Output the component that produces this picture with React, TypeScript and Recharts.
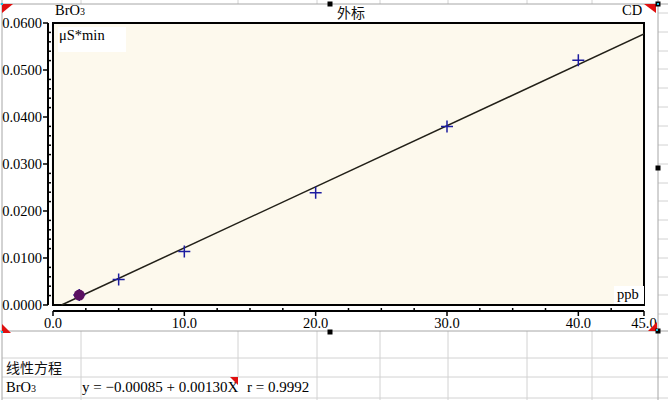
import React from "react";
import { ScatterChart, Scatter, XAxis, YAxis, ReferenceArea, ReferenceLine } from "recharts";

// calibration points (ppb vs µS*min)
const concentration = [2, 5, 10, 20, 30, 40];
const peakArea = [0.0021, 0.0054, 0.0114, 0.0239, 0.038, 0.0521];

// regression line ends, y = -0.00085 + 0.00130X
const fitX = [0.65, 45];
const fitY = [0, 0.05765];

const xMajor = [0, 10, 20, 30, 40, 45];
const xMinor = [2.5, 5, 7.5, 12.5, 15, 17.5, 22.5, 25, 27.5, 32.5, 35, 37.5, 42.5];
const yMajor = [0, 0.01, 0.02, 0.03, 0.04, 0.05, 0.06];
const yMinor = [
  0.002, 0.004, 0.006, 0.008, 0.012, 0.014, 0.016, 0.018, 0.022, 0.024, 0.026, 0.028,
  0.032, 0.034, 0.036, 0.038, 0.042, 0.044, 0.046, 0.048, 0.052, 0.054, 0.056, 0.058,
];

// axis lines sit a few px outside the plot box
const X_DOMAIN: [number, number] = [-0.38, 45];
const Y_DOMAIN: [number, number] = [-0.00128, 0.06];

const points = concentration.map((x, i) => ({ x, y: peakArea[i] }));
const fitLine = fitX.map((x, i) => ({ x, y: fitY[i] }));

const SERIF = '"Liberation Serif", "Times New Roman", serif';
const CJK = '"Noto Sans CJK SC", sans-serif';
const GRID = "#d2d2d2";
const FRAME = "#a6a6a6";

// spreadsheet cells around the chart object
const gridCols = [81, 238, 317, 380, 448, 527, 592];
const gridRows = [358, 377, 398];
const sideRows = [13, 32, 51, 69, 88, 107, 126, 145, 164, 183, 201, 220, 239, 258, 277, 295, 314];

function XTick({ x, y, payload }: any) {
  const v = payload.value;
  if (!xMajor.includes(v)) {
    return <line x1={x} x2={x} y1={y} y2={y - 3} stroke="#000" strokeWidth={1.5} />;
  }
  return (
    <g>
      <line x1={x} x2={x} y1={y} y2={y + 5} stroke="#000" strokeWidth={1.5} />
      <text x={x} y={y + 17} textAnchor="middle" fontSize={14.5} fontFamily={SERIF} fill="#000">
        {v.toFixed(1)}
      </text>
    </g>
  );
}

function YTick({ x, y, payload }: any) {
  const v = payload.value;
  if (!yMajor.includes(v)) {
    return <line x1={x} x2={x + 3} y1={y} y2={y} stroke="#000" strokeWidth={1.5} />;
  }
  return (
    <g>
      <line x1={x - 5} x2={x} y1={y} y2={y} stroke="#000" strokeWidth={1.5} />
      <text x={x - 6} y={y + 5} textAnchor="end" fontSize={14.5} fontFamily={SERIF} fill="#000">
        {v.toFixed(4)}
      </text>
    </g>
  );
}

function Cross({ cx, cy }: any) {
  return (
    <path
      d={`M${cx - 6},${cy}H${cx + 6}M${cx},${cy - 6}V${cy + 6}`}
      stroke="#1c1ca0"
      strokeWidth={1.5}
      fill="none"
    />
  );
}

function Dot({ cx, cy }: any) {
  return <circle cx={cx} cy={cy} r={5.5} fill="#5a1060" />;
}

function Handle({ x, y }: { x: number; y: number }) {
  return <rect x={x - 2.5} y={y - 2.5} width={5} height={5} fill="#000" />;
}

export default function App() {
  return (
    <div style={{ position: "absolute", left: 0, top: 0, width: 668, height: 400, background: "#fff", overflow: "hidden", color: "#000" }}>
      {/* sheet grid + chart frame */}
      <svg width={668} height={400} style={{ position: "absolute", left: 0, top: 0 }}>
        {gridCols.map((c) => (
          <g key={c}>
            <line x1={c} x2={c} y1={0} y2={4} stroke={GRID} />
            <line x1={c} x2={c} y1={331} y2={c === 238 ? 377 : 400} stroke={GRID} />
          </g>
        ))}
        {gridRows.map((r) => (
          <line key={r} x1={2} x2={668} y1={r} y2={r} stroke={GRID} />
        ))}
        {sideRows.map((r) => (
          <line key={r} x1={658} x2={668} y1={r} y2={r} stroke={GRID} />
        ))}
        <rect x={2} y={4} width={656} height={327} fill="#fff" />
        <line x1={0} x2={668} y1={4} y2={4} stroke={FRAME} />
        <line x1={0} x2={668} y1={331} y2={331} stroke={FRAME} />
        <line x1={2} x2={2} y1={0} y2={400} stroke={FRAME} />
        <line x1={658} x2={658} y1={0} y2={400} stroke={FRAME} />
      </svg>

      <div style={{ position: "absolute", left: 0, top: 0 }}>
        <ScatterChart width={668} height={330} margin={{ top: 23, right: 24, bottom: 0, left: 0 }}>
          <XAxis
            type="number"
            dataKey="x"
            domain={X_DOMAIN}
            allowDataOverflow
            ticks={[...xMajor, ...xMinor].sort((a, b) => a - b)}
            interval={0}
            height={19}
            axisLine={false}
            tickLine={false}
            tickSize={0}
            tickMargin={0}
            tick={<XTick />}
          />
          <YAxis
            type="number"
            dataKey="y"
            domain={Y_DOMAIN}
            allowDataOverflow
            ticks={[...yMajor, ...yMinor].sort((a, b) => a - b)}
            interval={0}
            width={48}
            axisLine={false}
            tickLine={false}
            tickSize={0}
            tickMargin={0}
            tick={<YTick />}
          />
          <ReferenceArea x1={0} x2={45} y1={0} y2={0.06} fill="#fdf9ed" fillOpacity={1} stroke="#000" strokeWidth={2} />
          <ReferenceLine
            segment={[{ x: 0, y: Y_DOMAIN[0] }, { x: 45, y: Y_DOMAIN[0] }]}
            stroke="#000"
            strokeWidth={2}
            ifOverflow="visible"
          />
          <ReferenceLine
            segment={[{ x: X_DOMAIN[0], y: 0 }, { x: X_DOMAIN[0], y: 0.06 }]}
            stroke="#000"
            strokeWidth={2}
            ifOverflow="visible"
          />
          <Scatter data={fitLine} line={{ stroke: "#222018", strokeWidth: 1.5 }} shape={() => <g />} isAnimationActive={false} />
          <Scatter data={points} shape={<Cross />} isAnimationActive={false} />
          <Scatter data={points.slice(0, 1)} shape={<Dot />} isAnimationActive={false} />
        </ScatterChart>
      </div>

      {/* chart titles and unit labels */}
      <div style={{ position: "absolute", left: 55, top: 2, fontFamily: SERIF, fontSize: 14.5 }}>
        BrO<span style={{ fontSize: 10 }}>3</span>
      </div>
      <div style={{ position: "absolute", left: 337, top: 2, fontFamily: CJK, fontSize: 14, color: "#111" }}>外标</div>
      <div style={{ position: "absolute", left: 622, top: 2, fontFamily: SERIF, fontSize: 14.5 }}>CD</div>
      <div style={{ position: "absolute", left: 58, top: 27, width: 67, height: 25, background: "#fff", fontFamily: SERIF, fontSize: 14.5, lineHeight: "16px", paddingLeft: 1 }}>
        μS*min
      </div>
      <div style={{ position: "absolute", left: 614, top: 286, width: 27, height: 18, background: "#fff", fontFamily: SERIF, fontSize: 14.5, lineHeight: "16px", paddingLeft: 3 }}>
        ppb
      </div>

      {/* table below */}
      <div style={{ position: "absolute", left: 6, top: 358, fontFamily: CJK, fontSize: 14, color: "#111", lineHeight: "19px" }}>线性方程</div>
      <div style={{ position: "absolute", left: 6, top: 378, fontFamily: SERIF, fontSize: 14.5, lineHeight: "19px" }}>
        BrO<span style={{ fontSize: 10 }}>3</span>
      </div>
      <div style={{ position: "absolute", left: 82, top: 378, fontFamily: SERIF, fontSize: 15, lineHeight: "19px", whiteSpace: "nowrap" }}>
        y = −0.00085 + 0.00130X
      </div>
      <div style={{ position: "absolute", left: 247, top: 378, fontFamily: SERIF, fontSize: 15, lineHeight: "19px", whiteSpace: "nowrap" }}>
        r = 0.9992
      </div>

      {/* selection markers */}
      <svg width={668} height={400} style={{ position: "absolute", left: 0, top: 0 }}>
        <polygon points="2,4 13,4 2,13" fill="#e01010" />
        <polygon points="644,4 656,4 656,13" fill="#e01010" />
        <polygon points="2,324 2,333 11,333" fill="#e01010" />
        <polygon points="648,331 657,322 657,331" fill="#e01010" />
        <polygon points="230,377 238,377 238,385" fill="#e01010" />
        <rect x={1} y={3} width={2} height={2} fill="#20c0e0" />
        <Handle x={330} y={4} />
        <Handle x={658} y={4} />
        <Handle x={658} y={168} />
        <Handle x={330} y={332} />
        <Handle x={658} y={331} />
        <rect x={657} y={3} width={2} height={2} fill="#20c0e0" />
        <rect x={656} y={329} width={2} height={2} fill="#20c0e0" />
        <rect x={1} y={331} width={2} height={2} fill="#20c0e0" />
      </svg>
    </div>
  );
}
